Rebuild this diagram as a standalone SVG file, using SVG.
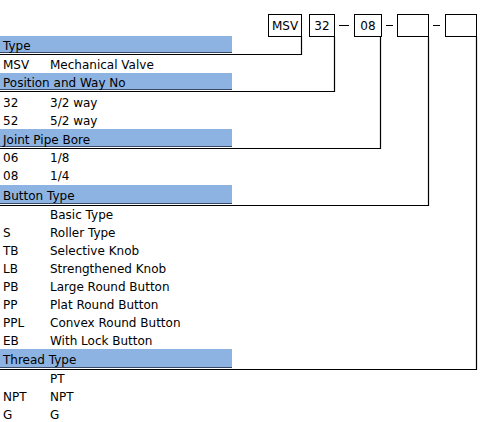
<svg xmlns="http://www.w3.org/2000/svg" width="487" height="422" viewBox="0 0 487 422">
<style>
text{font-family:"DejaVu Sans",Verdana,sans-serif;font-size:12px;fill:#000}
.bar{fill:#8db3e2}
.ul{stroke:#3a4a66;stroke-width:1}
.ln{stroke:#000;stroke-width:1.2;fill:none}
.box{fill:#fff;stroke:#000;stroke-width:1}
.c{text-anchor:middle}
</style>
<rect width="487" height="422" fill="#fff"/>
<g id="code">
<g id="box-msv"><rect class="box" x="268.5" y="14.5" width="33" height="22"/><text class="c" x="285" y="30">MSV</text></g>
<g id="box-32"><rect class="box" x="309.5" y="14.5" width="25" height="22"/><text class="c" x="322" y="30">32</text></g>
<g id="box-08"><rect class="box" x="354.5" y="14.5" width="27" height="22"/><text class="c" x="368" y="30">08</text></g>
<g id="box-button"><rect class="box" x="397.5" y="14.5" width="31" height="22"/></g>
<g id="box-thread"><rect class="box" x="445.5" y="14.5" width="31" height="22"/></g>
</g>
<g id="connectors">
<path class="ln" d="M339 25.5H349M386 25.5H393M433 25.5H440"/>
<path class="ln" d="M0 54.5H301.5V36.5"/>
<path class="ln" d="M0 91.5H334.5V36.5"/>
<path class="ln" d="M0 148.5H380.5V36.5"/>
<path class="ln" d="M0 205.5H428.5V36.5"/>
<path class="ln" d="M0 369.5H476.5V36.5"/>
</g>
<g id="type">
<rect class="bar" x="0" y="36" width="232" height="16"/><line class="ul" x1="0" y1="52.5" x2="232" y2="52.5"/>
<text x="3" y="50">Type</text>
<text x="3" y="69">MSV</text><text x="50" y="69">Mechanical Valve</text>
</g>
<g id="position">
<rect class="bar" x="0" y="73" width="232" height="16"/><line class="ul" x1="0" y1="89.5" x2="232" y2="89.5"/>
<text x="3" y="87">Position and Way No</text>
<text x="3" y="107">32</text><text x="50" y="107">3/2 way</text>
<text x="3" y="125">52</text><text x="50" y="125">5/2 way</text>
</g>
<g id="bore">
<rect class="bar" x="0" y="129" width="232" height="17"/><line class="ul" x1="0" y1="146.5" x2="232" y2="146.5"/>
<text x="3" y="144">Joint Pipe Bore</text>
<text x="3" y="162">06</text><text x="50" y="162">1/8</text>
<text x="3" y="180">08</text><text x="50" y="180">1/4</text>
</g>
<g id="button">
<rect class="bar" x="0" y="185" width="232" height="18"/><line class="ul" x1="0" y1="203.5" x2="232" y2="203.5"/>
<text x="3" y="200">Button Type</text>
<text x="50" y="219">Basic Type</text>
<text x="3" y="237">S</text><text x="50" y="237">Roller Type</text>
<text x="3" y="255">TB</text><text x="50" y="255">Selective Knob</text>
<text x="3" y="273">LB</text><text x="50" y="273">Strengthened Knob</text>
<text x="3" y="291">PB</text><text x="50" y="291">Large Round Button</text>
<text x="3" y="309">PP</text><text x="50" y="309">Plat Round Button</text>
<text x="3" y="327">PPL</text><text x="50" y="327">Convex Round Button</text>
<text x="3" y="345">EB</text><text x="50" y="345">With Lock Button</text>
</g>
<g id="thread">
<rect class="bar" x="0" y="349" width="232" height="18"/><line class="ul" x1="0" y1="367.5" x2="232" y2="367.5"/>
<text x="3" y="364">Thread Type</text>
<text x="50" y="383">PT</text>
<text x="3" y="401">NPT</text><text x="50" y="401">NPT</text>
<text x="3" y="419">G</text><text x="50" y="419">G</text>
</g>
</svg>
